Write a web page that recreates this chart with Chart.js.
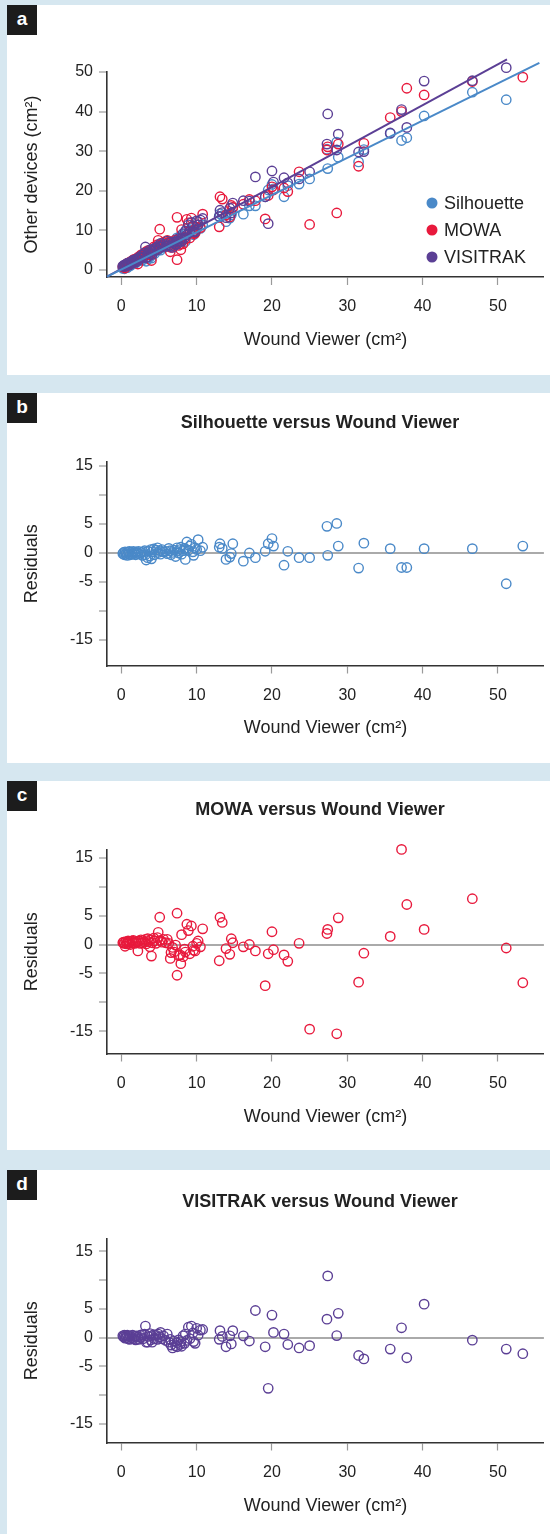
<!DOCTYPE html>
<html>
<head>
<meta charset="utf-8">
<script src="https://cdn.jsdelivr.net/npm/chart.js@4.4.1/dist/chart.umd.min.js"></script>
<style>
  body { margin: 0; width: 550px; height: 1534px; background: #d6e7f0; position: relative; overflow: hidden; }
  .panel { position: absolute; left: 7px; width: 543px; background: #fff; }
  .panel canvas { position: absolute; left: 0; top: 0; }
  .tag { position: absolute; left: 0; top: 0; width: 30px; height: 30px; background: #1c1c1c; color: #fff;
         font: bold 19px 'Liberation Sans', Arial, sans-serif; line-height: 27px; text-align: center; }
</style>
</head>
<body>
<div class="panel" style="top:5px;height:370px"><canvas id="chartA" width="543" height="370"></canvas><div class="tag">a</div></div>
<div class="panel" style="top:393px;height:370px"><canvas id="chartB" width="543" height="370"></canvas><div class="tag">b</div></div>
<div class="panel" style="top:781px;height:369px"><canvas id="chartC" width="543" height="369"></canvas><div class="tag">c</div></div>
<div class="panel" style="top:1170px;height:364px"><canvas id="chartD" width="543" height="364"></canvas><div class="tag">d</div></div>
<script>
// Wound Viewer areas (cm2), shared x for every panel
const woundViewer = [
  0.2, 0.3, 0.4, 0.5, 0.6, 0.7, 0.8, 0.9, 1.0, 1.1, 1.2, 1.4, 1.5, 1.6, 1.8, 1.9, 2.0,
  2.2, 2.3, 2.5, 2.6, 2.8, 2.9, 3.1, 3.2, 3.3, 3.5, 3.6, 3.8, 3.9, 4.0, 4.1, 4.3, 4.4, 4.6, 4.8, 4.9,
  5.1, 5.2, 5.4, 5.6, 5.9, 6.1, 6.3, 6.5, 6.6, 6.8, 7.0, 7.2, 7.4, 7.4, 7.6, 7.8, 7.9,
  8.0, 8.2, 8.4, 8.5, 8.7, 8.9, 9.1, 9.3, 9.5, 9.6, 9.8, 10.0, 10.2, 10.5, 10.8,
  13.0, 13.1, 13.4, 13.9, 14.4, 14.6, 14.8, 16.2, 17.0, 17.8, 19.1, 19.5, 20.0, 20.2, 21.6, 22.1,
  23.6, 25.0, 27.3, 27.4, 28.6, 28.8, 31.5, 32.2, 35.7, 37.2, 37.9, 40.2, 46.6, 51.1, 53.3
];

// panel a: other devices (cm2)
const silhouette = [
  0.4, 0.7, 0.3, 0.9, 0.6, 1.0, 0.6, 1.3, 1.1, 1.6, 1.1, 1.7, 1.5, 2.1, 2.0, 1.8, 2.4,
  2.2, 2.7, 2.4, 2.8, 2.5, 3.2, 3.6, 3.0, 2.2, 2.8, 4.0, 3.3, 4.5, 3.0, 4.3, 5.0, 4.1, 5.1, 5.7, 5.0,
  5.5, 5.0, 6.0, 5.7, 6.1, 5.9, 7.0, 6.8, 6.2, 6.8, 7.4, 6.4, 7.5, 8.1, 7.4, 8.2, 8.7,
  7.6, 8.4, 9.0, 7.2, 10.4, 9.1, 10.0, 10.5, 9.4, 8.9, 10.4, 10.3, 12.2, 10.5, 11.4,
  13.5, 14.2, 13.7, 12.2, 13.1, 13.9, 15.8, 14.1, 16.2, 16.2, 18.5, 20.2, 21.6, 20.5, 18.5, 21.3,
  21.7, 23.0, 30.5, 25.6, 32.3, 28.5, 27.3, 30.4, 34.5, 32.7, 33.4, 38.9, 44.9, 43.0, 51.6
];
const mowa = [
  0.8, 1.0, 0.9, 0.5, 1.4, 1.1, 1.5, 1.8, 1.5, 1.9, 1.5, 2.3, 2.1, 2.6, 2.4, 2.8, 2.8,
  1.5, 3.3, 3.1, 3.8, 3.5, 4.0, 3.9, 4.5, 3.8, 4.9, 4.5, 3.8, 5.1, 2.4, 4.8, 5.8, 5.4, 5.2, 6.4, 7.5,
  10.3, 6.4, 6.3, 7.0, 6.7, 7.5, 7.0, 4.6, 5.7, 6.8, 6.2, 7.6, 13.3, 2.6, 6.2, 6.5, 5.1,
  10.2, 6.6, 8.2, 7.8, 12.8, 11.9, 8.1, 13.1, 9.8, 9.2, 9.3, 10.8, 11.4, 10.7, 14.1,
  10.9, 18.5, 17.9, 13.9, 13.4, 16.3, 15.8, 16.6, 17.8, 17.5, 12.9, 18.8, 21.0, 20.2, 20.7, 19.8,
  24.8, 11.5, 30.3, 31.1, 14.4, 31.8, 26.2, 32.0, 38.5, 40.0, 45.9, 44.2, 47.6, 52.6, 48.7
];
const visitrak = [
  1.0, 0.9, 1.3, 0.9, 1.4, 1.2, 1.7, 1.2, 1.7, 1.3, 2.0, 1.9, 2.4, 1.9, 2.5, 2.0, 2.8,
  2.8, 2.5, 3.4, 3.1, 3.8, 3.2, 4.3, 5.8, 3.1, 3.3, 4.4, 5.1, 4.1, 4.9, 3.9, 5.4, 4.8, 5.6, 5.1, 6.1,
  5.8, 6.7, 5.8, 6.5, 6.0, 7.3, 6.2, 6.9, 6.0, 5.7, 7.1, 6.5, 7.2, 6.5, 7.9, 7.3, 7.9,
  7.2, 9.2, 8.1, 9.8, 8.9, 11.4, 9.6, 12.0, 11.1, 9.7, 9.6, 12.4, 11.4, 12.6, 13.0,
  13.5, 15.1, 14.5, 13.2, 15.6, 14.4, 16.9, 17.5, 17.4, 23.5, 18.5, 11.7, 25.0, 22.2, 23.3, 22.0,
  23.0, 24.8, 31.8, 39.4, 30.3, 34.3, 29.8, 29.9, 34.6, 40.5, 36.0, 47.7, 47.8, 51.1, 52.0
];

// panel a regression lines (end points)
const silhouetteFitX = [-1.9, 55.5];
const silhouetteFitY = [-1.7, 52.3];
const visitrakFitX = [-1.9, 51.2];
const visitrakFitY = [-1.7, 53.2];

// panels b-d: residuals
const silhouetteResidual = [
  -0.1, 0.1, -0.3, 0.2, -0.2, 0.1, -0.4, 0.2, -0.1, 0.3, -0.3, 0.1, -0.2, 0.3, 0.0, -0.3, 0.2,
  -0.1, 0.3, -0.2, 0.1, -0.4, 0.2, 0.4, -0.3, -1.2, -0.8, 0.3, -0.5, 0.6, -1.0, 0.2, 0.7, -0.3, 0.5, 0.9, 0.1,
  0.4, -0.2, 0.6, 0.2, 0.3, -0.1, 0.8, 0.4, -0.3, 0.1, 0.5, -0.6, 0.3, 0.9, 0.0, 0.6, 1.0,
  -0.2, 0.4, 0.8, -1.1, 1.9, 0.5, 1.2, 1.5, 0.2, -0.4, 0.9, 0.6, 2.3, 0.4, 1.0,
  1.0, 1.6, 0.8, -1.1, -0.7, -0.1, 1.6, -1.4, 0.0, -0.8, 0.3, 1.6, 2.5, 1.2, -2.1, 0.3,
  -0.8, -0.8, 4.6, -0.4, 5.1, 1.2, -2.6, 1.7, 0.75, -2.5, -2.5, 0.75, 0.75, -5.3, 1.2
];
const mowaResidual = [
  0.3, 0.4, 0.2, -0.3, 0.5, 0.1, 0.4, 0.6, 0.2, 0.5, 0.0, 0.6, 0.3, 0.7, 0.2, 0.5, 0.4,
  -1.1, 0.6, 0.2, 0.8, 0.3, 0.7, 0.4, 0.9, 0.1, 1.0, 0.5, -0.4, 0.8, -2.0, 0.3, 1.1, 0.6, 0.2, 1.2, 2.1,
  4.7, 0.7, 0.4, 0.9, 0.3, 0.9, 0.2, -2.4, -1.4, -0.5, -1.3, -0.1, 5.4, -5.3, -1.9, -1.8, -3.3,
  1.7, -2.1, -0.8, -1.3, 3.5, 2.4, -1.6, 3.2, -0.3, -1.0, -1.1, 0.2, 0.6, -0.4, 2.7,
  -2.8, 4.7, 3.8, -0.7, -1.7, 1.0, 0.3, -0.4, 0.0, -1.1, -7.1, -1.6, 2.2, -0.9, -1.8, -2.9,
  0.2, -14.6, 1.9, 2.6, -15.4, 4.6, -6.5, -1.5, 1.4, 16.4, 6.9, 2.6, 7.9, -0.6, -6.6
];
const visitrakResidual = [
  0.3, 0.1, 0.4, -0.1, 0.3, 0.0, 0.4, -0.2, 0.2, -0.3, 0.3, 0.0, 0.4, -0.2, 0.2, -0.4, 0.3,
  0.1, -0.3, 0.4, 0.0, 0.5, -0.2, 0.6, 2.0, -0.8, -0.8, 0.2, 0.7, -0.4, 0.3, -0.8, 0.5, -0.2, 0.4, -0.3, 0.6,
  0.1, 0.9, -0.2, 0.3, -0.5, 0.6, -0.8, -0.3, -1.3, -1.8, -0.6, -1.4, -0.9, -1.6, -0.4, -1.2, -0.7,
  -1.5, 0.3, -1.0, 0.6, -0.5, 1.8, -0.2, 2.0, 0.8, -0.7, -1.0, 1.6, 0.4, 1.3, 1.4,
  -0.3, 1.2, 0.2, -1.6, 0.3, -1.1, 1.2, 0.3, -0.6, 4.7, -1.6, -8.8, 3.9, 0.9, 0.6, -1.2,
  -1.8, -1.4, 3.2, 10.7, 0.35, 4.2, -3.1, -3.7, -2.0, 1.7, -3.5, 5.8, -0.45, -2.0, -2.8
];

// ticks
const xTicks = [0, 10, 20, 30, 40, 50];
const scatterTicks = [0, 10, 20, 30, 40, 50];
const residualTicks = [-15, -10, -5, 0, 5, 10, 15];
const residualTickLabels = ['-15', '', '-5', '0', '5', '', '15'];

const FONT = "'Liberation Sans', Arial, Helvetica, sans-serif";
const TEXT = '#222';
const BLUE = '#4a89c8';
const RED = '#e8193c';
const PURPLE = '#5b3f95';

const insideLegend = {
  id: 'insideLegend',
  afterDraw(chart, args, opts) {
    if (!opts.items) return;
    const ctx = chart.ctx;
    ctx.save();
    ctx.font = '18px ' + FONT;
    ctx.textBaseline = 'middle';
    opts.items.forEach((label, i) => {
      const ds = chart.data.datasets.find(d => d.label === label);
      const y = opts.top + i * opts.rowHeight;
      ctx.fillStyle = ds.borderColor;
      ctx.beginPath();
      ctx.arc(opts.left, y, 5.5, 0, Math.PI * 2);
      ctx.fill();
      ctx.fillStyle = TEXT;
      ctx.fillText(label, opts.left + 12, y + 1);
    });
    ctx.restore();
  }
};

const panelTitle = {
  id: 'panelTitle',
  afterDraw(chart, args, opts) {
    if (!opts.text) return;
    const ctx = chart.ctx;
    ctx.save();
    ctx.font = 'bold 18px ' + FONT;
    ctx.fillStyle = TEXT;
    ctx.textAlign = 'center';
    ctx.textBaseline = 'middle';
    ctx.fillText(opts.text, opts.x, opts.y);
    ctx.restore();
  }
};

function rings(label, ys, color) {
  return {
    label: label,
    data: woundViewer.map((x, i) => ({ x: x, y: ys[i] })),
    borderColor: color,
    backgroundColor: 'rgba(0,0,0,0)',
    pointRadius: 4.7,
    pointBorderWidth: 1.4,
    showLine: false,
    clip: false
  };
}

function fitLine(xs, ys, color) {
  return {
    label: '',
    data: xs.map((x, i) => ({ x: x, y: ys[i] })),
    borderColor: color,
    borderWidth: 2,
    pointRadius: 0,
    showLine: true,
    clip: false
  };
}

function xAxis(height, titleBottom) {
  return {
    type: 'linear',
    min: -1.9,
    max: 56.1,
    afterBuildTicks: s => { s.ticks = xTicks.map(v => ({ value: v })); },
    afterFit: s => { s.height = height; },
    border: { color: '#333', width: 1.6 },
    grid: { drawOnChartArea: false, tickLength: 8, tickColor: '#9a9a9a', tickWidth: 1.2 },
    ticks: { color: TEXT, font: { family: FONT, size: 16 }, padding: 12, maxRotation: 0 },
    title: {
      display: true, text: 'Wound Viewer (cm²)', color: TEXT,
      font: { family: FONT, size: 18 }, padding: { top: 0, bottom: titleBottom }
    }
  };
}

function yAxis(min, max, ticks, labels, title, zeroLine) {
  return {
    type: 'linear',
    min: min,
    max: max,
    afterBuildTicks: s => { s.ticks = ticks.map(v => ({ value: v })); },
    afterFit: s => { s.width = 100; },
    border: { color: '#333', width: 1.6 },
    grid: {
      drawOnChartArea: zeroLine,
      color: c => (c.tick && c.tick.value === 0 ? '#aaaaaa' : 'rgba(0,0,0,0)'),
      lineWidth: 2,
      tickLength: 8,
      tickColor: '#9a9a9a',
      tickWidth: 1.2
    },
    ticks: {
      color: TEXT, font: { family: FONT, size: 16 }, padding: 6,
      callback: v => labels[ticks.indexOf(v)]
    },
    title: {
      display: true, text: title, color: TEXT,
      font: { family: FONT, size: 18 }, padding: { top: 14, bottom: 0 }
    }
  };
}

function baseOptions(top) {
  return {
    responsive: false,
    animation: false,
    devicePixelRatio: 1,
    layout: { padding: { top: top, right: 5, bottom: 0, left: 0 } },
    plugins: { legend: { display: false }, tooltip: { enabled: false } }
  };
}

// panel a
const optsA = baseOptions(67);
optsA.scales = {
  x: xAxis(370 - 272, 24),
  y: yAxis(-1.77, 50, scatterTicks, scatterTicks.map(String), 'Other devices (cm²)', false)
};
optsA.plugins.insideLegend = { items: ['Silhouette', 'MOWA', 'VISITRAK'], left: 425, top: 198, rowHeight: 27 };

new Chart(document.getElementById('chartA'), {
  type: 'scatter',
  data: {
    datasets: [
      fitLine(silhouetteFitX, silhouetteFitY, BLUE),
      fitLine(visitrakFitX, visitrakFitY, PURPLE),
      rings('VISITRAK', visitrak, PURPLE),
      rings('MOWA', mowa, RED),
      rings('Silhouette', silhouette, BLUE)
    ]
  },
  options: optsA,
  plugins: [insideLegend]
});

// panels b-d
function residualChart(id, height, yMin, yMax, titleBottom, label, values, color, titleY) {
  const opts = baseOptions(69);
  opts.scales = {
    x: xAxis(height - 272.5, titleBottom),
    y: yAxis(yMin, yMax, residualTicks, residualTickLabels, 'Residuals', true)
  };
  opts.plugins.panelTitle = { text: label + ' versus Wound Viewer', x: 313, y: titleY };
  new Chart(document.getElementById(id), {
    type: 'scatter',
    data: { datasets: [rings(label, values, color)] },
    options: opts,
    plugins: [panelTitle]
  });
}

residualChart('chartB', 370, -19.4, 15.7, 24, 'Silhouette', silhouetteResidual, BLUE, 30);
residualChart('chartC', 369, -18.8, 16.3, 22.5, 'MOWA', mowaResidual, RED, 29);
residualChart('chartD', 364, -18.2, 17.1, 17, 'VISITRAK', visitrakResidual, PURPLE, 32);
</script>
</body>
</html>
